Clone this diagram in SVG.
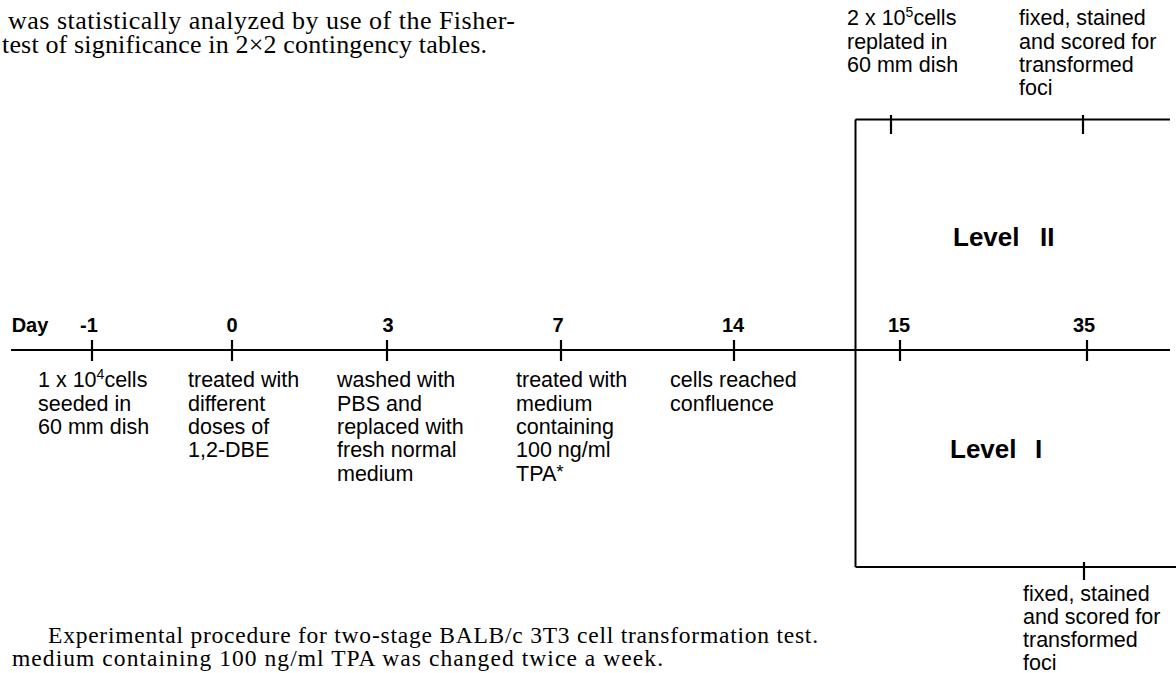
<svg xmlns="http://www.w3.org/2000/svg" width="1176" height="673" viewBox="0 0 1176 673">
<style>
.cap{font-family:"Liberation Serif","Times New Roman",serif;font-size:26px;fill:#000}
.capb{font-family:"Liberation Serif","Times New Roman",serif;font-size:23.5px;fill:#000}
.lbl{font-family:"Liberation Sans",Arial,sans-serif;font-size:21.5px;fill:#000}
.num{font-family:"Liberation Sans",Arial,sans-serif;font-size:20px;font-weight:bold;fill:#000;text-anchor:middle}
.lvl{font-family:"Liberation Sans",Arial,sans-serif;font-size:26px;font-weight:bold;fill:#000}
.sup{font-size:14px}
.ast{font-size:19px}
.ln{stroke:#000;stroke-width:2;fill:none}
.tk{stroke:#000;stroke-width:2.2;fill:none}
</style>
<rect width="1176" height="673" fill="#fff"/>

<g id="caption-top">
<text class="cap" x="8" y="29" textLength="507">was statistically analyzed by use of the Fisher-</text>
<text class="cap" x="2" y="53" textLength="485">test of significance in 2×2 contingency tables.</text>
</g>

<g id="connectors">
<line class="ln" x1="11" y1="350" x2="1170" y2="350"/>
<line class="ln" x1="855.5" y1="119.5" x2="855.5" y2="567"/>
<line class="ln" x1="855.5" y1="119.5" x2="1170" y2="119.5" stroke-width="1.6"/>
<line class="ln" x1="855.5" y1="567" x2="1176" y2="567" stroke-width="2.4"/>
<line class="tk" x1="92" y1="340" x2="92" y2="361"/>
<line class="tk" x1="232" y1="340" x2="232" y2="361"/>
<line class="tk" x1="387" y1="340" x2="387" y2="361"/>
<line class="tk" x1="561" y1="340" x2="561" y2="361"/>
<line class="tk" x1="734" y1="340" x2="734" y2="361"/>
<line class="tk" x1="900" y1="340" x2="900" y2="361"/>
<line class="tk" x1="1087" y1="340" x2="1087" y2="361"/>
<line class="tk" x1="891" y1="115" x2="891" y2="134" stroke-width="1.8"/>
<line class="tk" x1="1083" y1="115" x2="1083" y2="134" stroke-width="2.6"/>
<line class="tk" x1="1084" y1="562" x2="1084" y2="580" stroke-width="1.8"/>
</g>

<g id="day-label">
<text class="num" x="30" y="332">Day</text>
</g>

<g id="day-minus1">
<text class="num" x="89" y="332">-1</text>
<text class="lbl" x="38" y="387">1 x 10<tspan class="sup" dy="-8">4</tspan><tspan dy="8">cells</tspan></text>
<text class="lbl" x="38" y="410.5">seeded in</text>
<text class="lbl" x="38" y="434">60 mm dish</text>
</g>

<g id="day-0">
<text class="num" x="232" y="332">0</text>
<text class="lbl" x="188" y="387">treated with</text>
<text class="lbl" x="188" y="410.5">different</text>
<text class="lbl" x="188" y="434">doses of</text>
<text class="lbl" x="188" y="457">1,2-DBE</text>
</g>

<g id="day-3">
<text class="num" x="388" y="332">3</text>
<text class="lbl" x="337" y="387">washed with</text>
<text class="lbl" x="337" y="410.5">PBS and</text>
<text class="lbl" x="337" y="434">replaced with</text>
<text class="lbl" x="337" y="457">fresh  normal</text>
<text class="lbl" x="337" y="481">medium</text>
</g>

<g id="day-7">
<text class="num" x="558" y="332">7</text>
<text class="lbl" x="516" y="387">treated with</text>
<text class="lbl" x="516" y="410.5">medium</text>
<text class="lbl" x="516" y="434">containing</text>
<text class="lbl" x="516" y="457">100 ng/ml</text>
<text class="lbl" x="516" y="481">TPA<tspan class="ast" dy="-3">*</tspan></text>
</g>

<g id="day-14">
<text class="num" x="733" y="332">14</text>
<text class="lbl" x="670" y="387">cells reached</text>
<text class="lbl" x="670" y="410.5">confluence</text>
</g>

<g id="day-15">
<text class="num" x="899" y="332">15</text>
</g>

<g id="day-35">
<text class="num" x="1084" y="332">35</text>
</g>

<g id="replate">
<text class="lbl" x="847" y="25">2 x 10<tspan class="sup" dy="-8">5</tspan><tspan dy="8">cells</tspan></text>
<text class="lbl" x="847" y="48.5">replated  in</text>
<text class="lbl" x="847" y="72">60 mm  dish</text>
</g>

<g id="level2-scored">
<text class="lbl" x="1019" y="25">fixed, stained</text>
<text class="lbl" x="1019" y="48.5">and scored for</text>
<text class="lbl" x="1019" y="72">transformed</text>
<text class="lbl" x="1019" y="95">foci</text>
</g>

<g id="level2">
<text class="lvl" x="953" y="246">Level<tspan x="1040">II</tspan></text>
</g>

<g id="level1">
<text class="lvl" x="950" y="458">Level<tspan x="1035">I</tspan></text>
</g>

<g id="level1-scored">
<text class="lbl" x="1023" y="601">fixed, stained</text>
<text class="lbl" x="1023" y="624">and scored for</text>
<text class="lbl" x="1023" y="647">transformed</text>
<text class="lbl" x="1023" y="670">foci</text>
</g>

<g id="caption-bottom">
<text class="capb" x="48" y="643" textLength="770">Experimental procedure for two-stage BALB/c 3T3 cell transformation test.</text>
<text class="capb" x="12" y="666" textLength="651">medium containing 100 ng/ml TPA was changed twice a week.</text>
</g>
</svg>
